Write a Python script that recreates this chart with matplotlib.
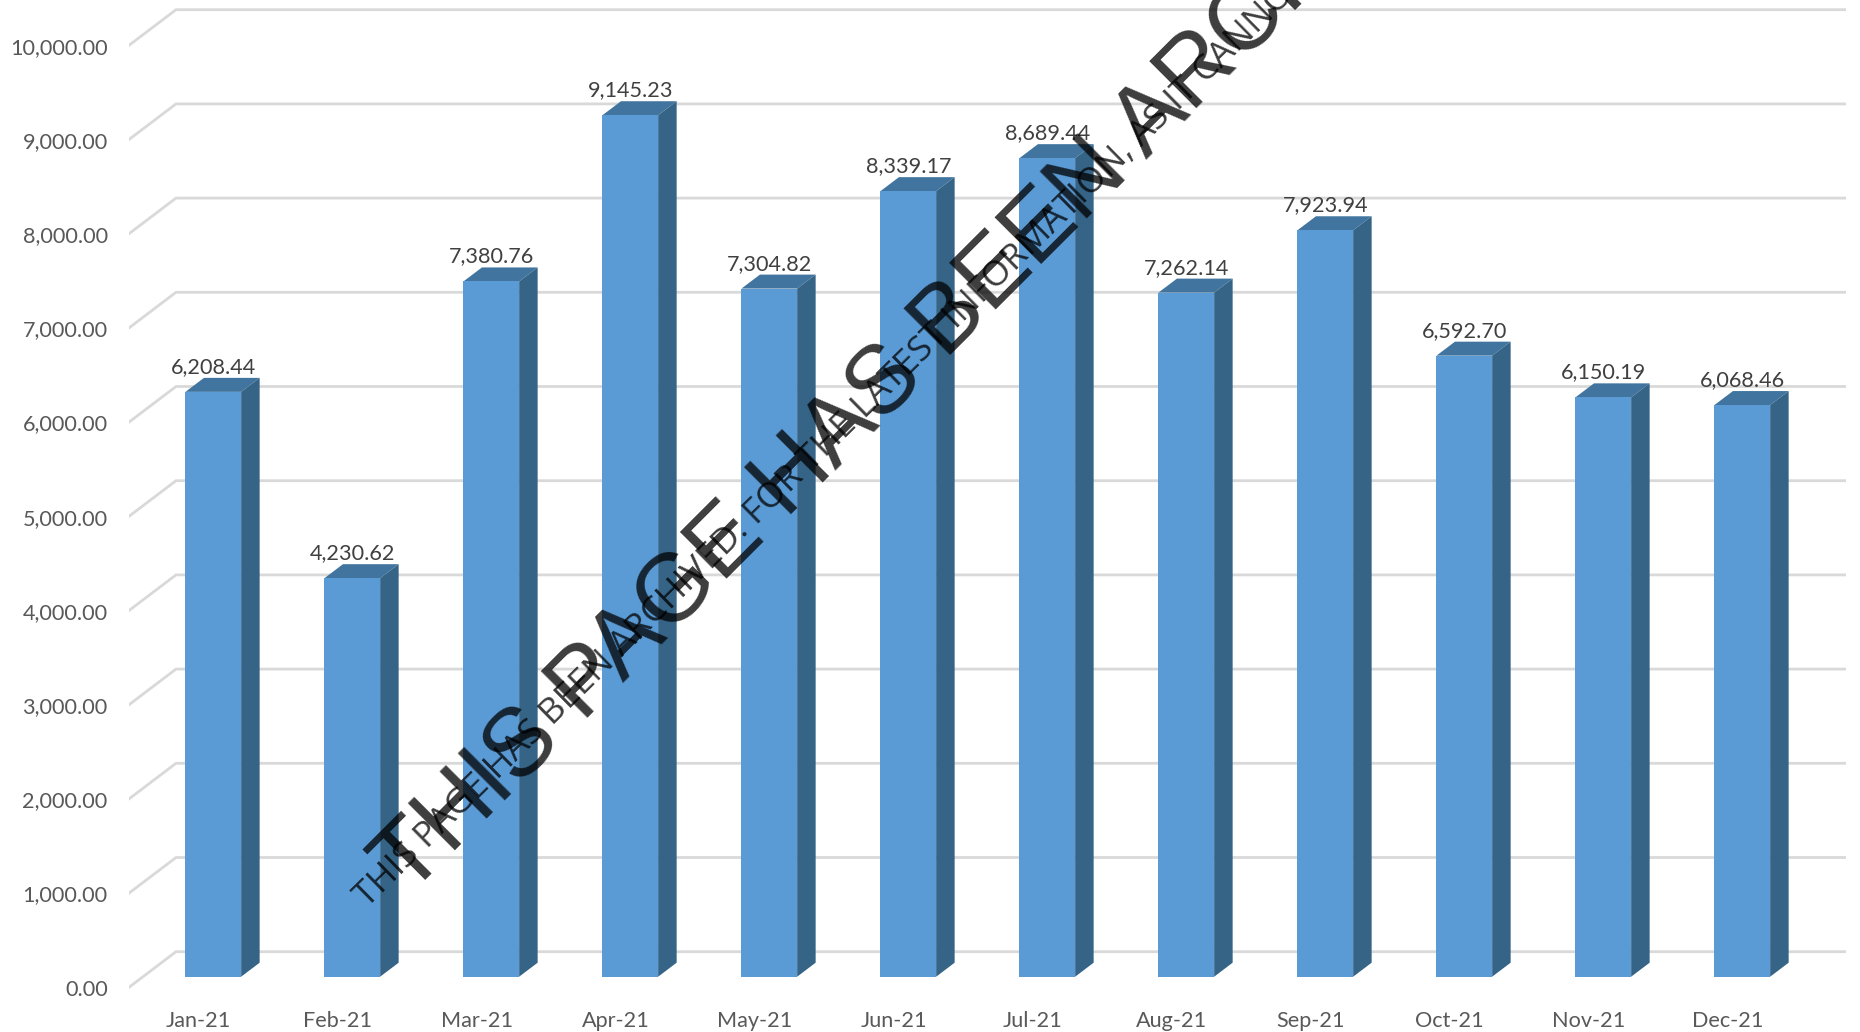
import matplotlib
matplotlib.use('Agg')
import matplotlib.pyplot as plt
import numpy as np

months = ['Jan-21', 'Feb-21', 'Mar-21', 'Apr-21', 'May-21', 'Jun-21',
          'Jul-21', 'Aug-21', 'Sep-21', 'Oct-21', 'Nov-21', 'Dec-21']
values = [6208.44, 4230.62, 7380.76, 9145.23, 7304.82, 8339.17,
          8689.44, 7262.14, 7923.94, 6592.70, 6150.19, 6068.46]
y_ticks = [0, 1000, 2000, 3000, 4000, 5000, 6000, 7000, 8000, 9000, 10000]

plt.rcParams['font.family'] = ['Lato', 'DejaVu Sans']

W, H = 1860, 1032
fig = plt.figure(figsize=(W / 100, H / 100), dpi=100, facecolor='white')

# pixel layout of the chart
x0_px, period = 213.3, 139.0
y0_px, per_unit = 976.7, 0.0942
ymin, ymax = -200, 10300
left_px, right_px = 128.5, 1846.0
ax = fig.add_axes([left_px / W, 1 - (y0_px - ymin * per_unit) / H,
                   (right_px - left_px) / W, (ymax - ymin) * per_unit / H])
ax.set_xlim((left_px - x0_px) / period, (right_px - x0_px) / period)
ax.set_ylim(ymin, ymax)
for s in ax.spines.values():
    s.set_visible(False)
ax.patch.set_alpha(0)

bar_w = 55.7 / period
dx = 18.5 / period
dy = 14 / per_unit
wall_back = 25 / per_unit
wall_front = -11 / per_unit
back_x = (176 - x0_px) / period
left_x, right_x = ax.get_xlim()

for t in y_ticks:
    ax.plot([left_x, back_x, right_x],
            [t + wall_front, t + wall_back, t + wall_back],
            color='#d9d9d9', lw=2.0, solid_joinstyle='miter', zorder=1)

x = np.arange(len(months))
ax.bar(x, values, width=bar_w, color='#5b9bd5', zorder=3)
for i, v in zip(x, values):
    l, r = i - bar_w / 2, i + bar_w / 2
    ax.fill([l, r, r + dx, l + dx], [v, v, v + dy, v + dy], color='#41759f', lw=0, zorder=2.5)
    ax.fill([r, r + dx, r + dx, r], [0, dy, v + dy, v], color='#356487', lw=0, zorder=2.5)
    ax.text(i, v + 265, f'{v:,.2f}', ha='center', va='center', fontsize=15.6, color='#404040', zorder=4)

ax.set_xticks(x - 14.6 / period, months, fontsize=15.6, color='#595959')
ax.set_yticks(np.array(y_ticks) + wall_front, [f'{t:,.2f}' for t in y_ticks], fontsize=15.6, color='#595959')
ax.tick_params(axis='both', length=0)
ax.tick_params(axis='x', pad=11)
ax.tick_params(axis='y', pad=15)

# watermark
fig.text(408 / W, 1 - 897 / H, 'THIS PAGE HAS BEEN ARCHIVED', rotation=45, rotation_mode='anchor',
         family='Liberation Sans', fontsize=69.5, color='black', alpha=0.76, ha='left', va='baseline')
fig.text(367 / W, 1 - 908 / H, 'THIS PAGE HAS BEEN ARCHIVED. FOR THE LATEST INFORMATION, AS IT CANNOT',
         rotation=44.5, rotation_mode='anchor', family='Open Sans', fontsize=25.5, color='black',
         alpha=0.76, ha='left', va='baseline')

fig.savefig('out.png', dpi=100)
